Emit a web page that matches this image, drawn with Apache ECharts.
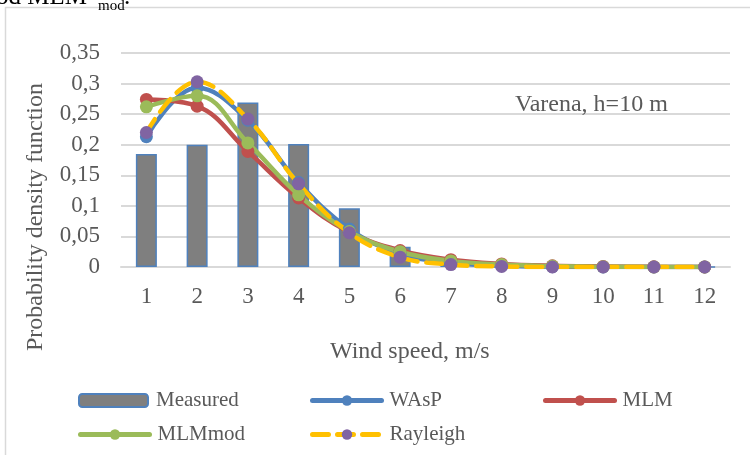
<!DOCTYPE html>
<html>
<head>
<meta charset="utf-8">
<script src="https://cdn.jsdelivr.net/npm/echarts@6/dist/echarts.min.js"></script>
<style>
  html, body { margin: 0; padding: 0; background: #fff; }
  #chart { width: 750px; height: 455px; }
</style>
</head>
<body>
<div id="chart"></div>
<script>
// wind speed bins, m/s
var speeds = ['1', '2', '3', '4', '5', '6', '7', '8', '9', '10', '11', '12'];
var yTicks = [0, 0.05, 0.1, 0.15, 0.2, 0.25, 0.3, 0.35];

var measured = [0.185, 0.2, 0.269, 0.201, 0.096, 0.033, 0.006, 0.001, 0, 0, 0, 0];
var wasp     = [0.213, 0.293, 0.24, 0.138, 0.062, 0.022, 0.007, 0.002, 0.0005, 0.0001, 0, 0];
var mlm      = [0.274, 0.263, 0.189, 0.113, 0.057, 0.027, 0.012, 0.005, 0.002, 0.001, 0.0003, 0.0001];
var mlmmod   = [0.262, 0.28, 0.203, 0.118, 0.058, 0.025, 0.01, 0.004, 0.0015, 0.0005, 0.0002, 0.0001];
var rayleigh = [0.22, 0.303, 0.242, 0.136, 0.056, 0.016, 0.004, 0.001, 0, 0, 0, 0];

var serif = 'Liberation Serif';
var txt = '#595959';

var chart = echarts.init(document.getElementById('chart'));

function lineSeries(name, data, color, markColor, dashed) {
  return {
    name: name,
    type: 'line',
    data: data,
    smooth: 0.4,
    symbol: 'circle',
    symbolSize: 13,
    showSymbol: true,
    lineStyle: { color: color, width: 4.5, type: dashed ? [16, 9] : 'solid', cap: 'round' },
    itemStyle: { color: markColor || color, borderWidth: 0 },
    emphasis: { disabled: true }
  };
}

// one legend per entry so the columns line up like the original
function legendItem(name, left, top) {
  return {
    data: [name],
    left: left, top: top,
    padding: 0,
    itemWidth: 69, itemHeight: 13, itemGap: 0,
    lineStyle: { width: 5 },
    textStyle: { fontFamily: serif, fontSize: 21, color: txt, padding: [0, 0, 0, 3] }
  };
}

chart.setOption({
  animation: false,
  grid: { left: 121, right: 20, top: 53, bottom: 188 },
  legend: [
    legendItem('Measured', 78, 390),
    legendItem('WAsP', 310, 390),
    legendItem('MLM', 543, 390),
    legendItem('MLMmod', 78, 424),
    legendItem('Rayleigh', 310, 424)
  ],
  xAxis: {
    type: 'category',
    data: speeds,
    axisLine: { lineStyle: { color: '#d9d9d9', width: 2 } },
    axisTick: { show: false },
    axisLabel: { fontFamily: serif, fontSize: 23, color: txt, margin: 18 }
  },
  yAxis: {
    type: 'value',
    min: 0, max: 0.35, interval: 0.05,
    axisLine: { show: false },
    axisTick: { show: false },
    splitLine: { lineStyle: { color: '#d9d9d9', width: 2 } },
    axisLabel: {
      fontFamily: serif, fontSize: 23, color: txt, margin: 21,
      formatter: function (v) {
        return String(+v.toFixed(2)).replace('.', ',');
      }
    }
  },
  graphic: [
    { type: 'rect', shape: { x: 5.5, y: 7.5, width: 800, height: 500 },
      style: { fill: null, stroke: '#d9d9d9', lineWidth: 1.5 }, silent: true, z: -1 },
    { type: 'text', left: -4, top: -15,
      style: { text: 'od MLM', font: '25px "Liberation Serif"', fill: '#000' } },
    { type: 'text', left: 98, top: -1,
      style: { text: 'mod', font: '15px "Liberation Serif"', fill: '#000' } },
    { type: 'text', left: 124, top: -15,
      style: { text: '.', font: '25px "Liberation Serif"', fill: '#000' } },
    { type: 'text', left: 515, top: 93, z: 10,
      style: { text: 'Varena, h=10 m', font: '24px "Liberation Serif"', fill: txt } },
    { type: 'text', left: 330, top: 340,
      style: { text: 'Wind speed, m/s', font: '24px "Liberation Serif"', fill: txt } },
    { type: 'text', x: 36, y: 217, rotation: Math.PI / 2,
      style: { text: 'Probability density function', font: '24px "Liberation Serif"', fill: txt,
               align: 'center', verticalAlign: 'middle' } }
  ],
  series: [
    {
      name: 'Measured',
      type: 'bar',
      data: measured,
      barWidth: 21,
      itemStyle: { color: '#7f7f7f', borderColor: '#4f81bd', borderWidth: 1.5 },
      emphasis: { disabled: true }
    },
    lineSeries('WAsP', wasp, '#4f81bd'),
    lineSeries('MLM', mlm, '#c0504d'),
    lineSeries('MLMmod', mlmmod, '#9bbb59'),
    lineSeries('Rayleigh', rayleigh, '#ffc000', '#8064a2', true)
  ]
});
</script>
</body>
</html>
